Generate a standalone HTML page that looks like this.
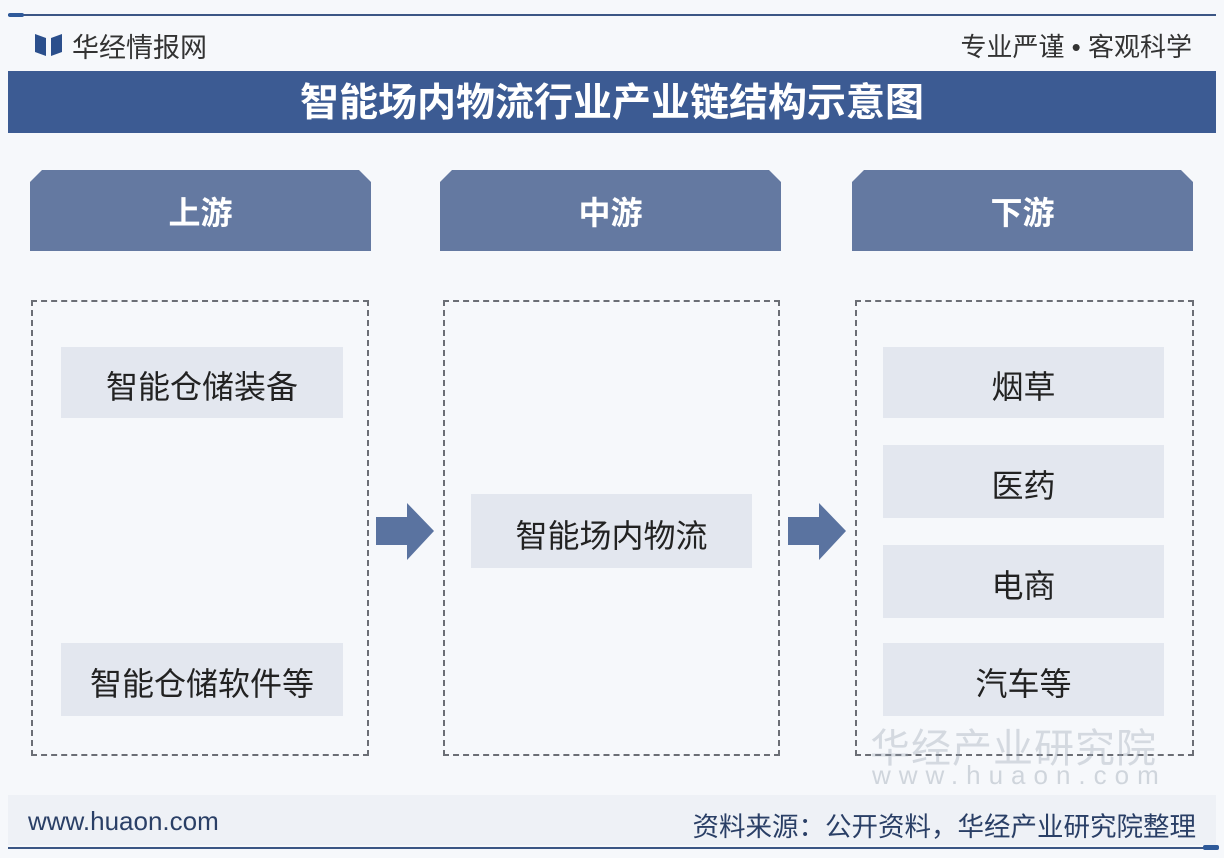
<!DOCTYPE html>
<html><head><meta charset="utf-8"><style>
*{margin:0;padding:0;box-sizing:border-box}
body{width:1224px;height:858px;background:#f6f8fb;position:relative;overflow:hidden;font-family:"Liberation Sans","Noto Sans CJK SC",sans-serif;color:#222}
.abs{position:absolute}
.tab{position:absolute;top:170px;width:341px;height:81px;background:#6479a1;clip-path:polygon(12px 0,329px 0,341px 12px,341px 100%,0 100%,0 12px);color:#fff;font-weight:bold;font-size:32px;text-align:center;line-height:86px}
.dash{position:absolute;top:300px;height:456px;border:2px dashed #6b6e75}
.item{position:absolute;background:#e3e7ef;font-size:32px;text-align:center;color:#222;padding-top:5px}
</style></head><body>
<div class="abs" style="left:8px;top:14px;width:1208px;height:2px;background:#3b5685"></div>
<div class="abs" style="left:8px;top:13px;width:16px;height:4px;background:#2f5a9a;border-radius:2px"></div>
<svg class="abs" style="left:35px;top:32px" width="28" height="26"><polygon points="0,2 11,6 11,24 0,20" fill="#2b4f8c"/><polygon points="27,2 16,6 16,24 27,20" fill="#2b4f8c"/></svg>
<div class="abs" style="left:72px;top:26px;font-size:27px;color:#333">华经情报网</div>
<div class="abs" style="right:32px;top:27px;font-size:26px;color:#333">专业严谨 • 客观科学</div>
<div class="abs" style="left:8px;top:71px;width:1208px;height:62px;background:#3c5b93;color:#fff;font-weight:bold;font-size:39px;text-align:center;line-height:66px">智能场内物流行业产业链结构示意图</div>
<div class="tab" style="left:30px">上游</div>
<div class="tab" style="left:440px">中游</div>
<div class="tab" style="left:852px">下游</div>
<div class="dash" style="left:31px;width:338px"></div>
<div class="dash" style="left:443px;width:337px"></div>
<div class="dash" style="left:855px;width:339px"></div>
<div class="item" style="left:61px;top:347px;width:282px;height:71px;line-height:71px">智能仓储装备</div>
<div class="item" style="left:61px;top:643px;width:282px;height:73px;line-height:73px">智能仓储软件等</div>
<div class="item" style="left:471px;top:494px;width:281px;height:74px;line-height:74px">智能场内物流</div>
<div class="item" style="left:883px;top:347px;width:281px;height:71px;line-height:71px">烟草</div>
<div class="item" style="left:883px;top:445px;width:281px;height:73px;line-height:73px">医药</div>
<div class="item" style="left:883px;top:545px;width:281px;height:73px;line-height:73px">电商</div>
<div class="item" style="left:883px;top:643px;width:281px;height:73px;line-height:73px">汽车等</div>
<svg class="abs" style="left:376px;top:503px" width="60" height="58"><polygon points="0,14 31,14 31,0 58,28 31,57 31,42 0,42" fill="#5a73a0"/></svg>
<svg class="abs" style="left:788px;top:503px" width="60" height="58"><polygon points="0,14 31,14 31,0 58,28 31,57 31,42 0,42" fill="#5a73a0"/></svg>
<div class="abs" style="left:870px;top:716px;font-size:40px;color:rgba(150,160,175,0.35);letter-spacing:1px">华经产业研究院</div>
<div class="abs" style="left:872px;top:760px;font-size:26px;color:rgba(150,160,175,0.4);letter-spacing:8px">www.huaon.com</div>
<div class="abs" style="left:8px;top:795px;width:1208px;height:50px;background:#eef1f6"></div>
<div class="abs" style="left:28px;top:806px;font-size:26px;color:#2a3f66">www.huaon.com</div>
<div class="abs" style="right:28px;top:805px;font-size:26.5px;color:#2a3f66">资料来源：公开资料，华经产业研究院整理</div>
<div class="abs" style="left:8px;top:847px;width:1208px;height:2px;background:#3b5685"></div>
<div class="abs" style="left:1203px;top:845px;width:16px;height:5px;background:#2f5a9a;border-radius:2px"></div>
</body></html>
